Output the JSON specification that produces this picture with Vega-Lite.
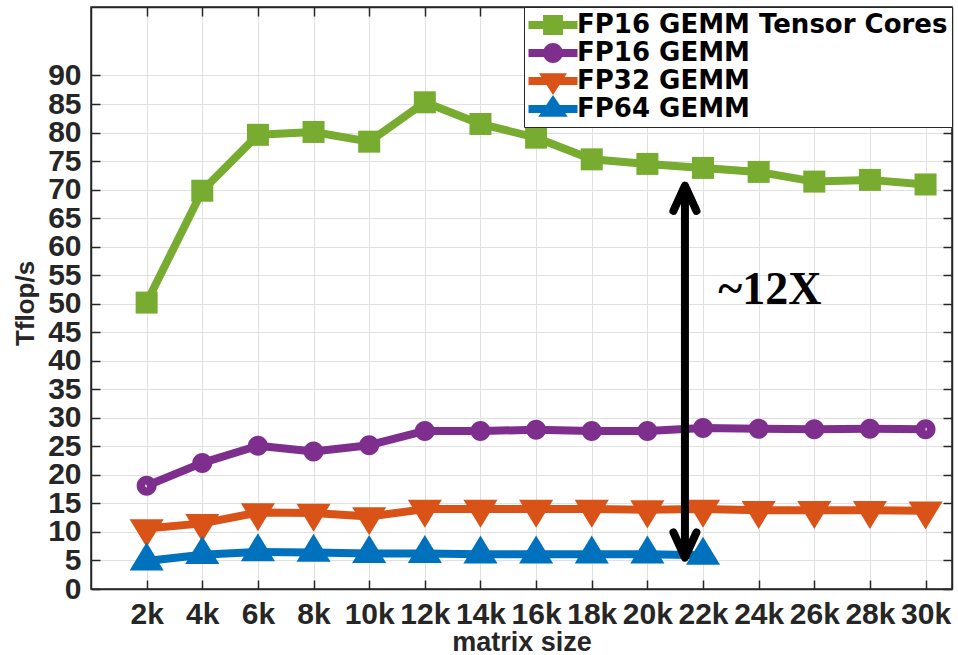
{
  "$schema": "https://vega.github.io/schema/vega-lite/v6.json",
  "width": 861,
  "height": 582,
  "autosize": {"type": "none"},
  "padding": {"left": 91, "top": 7, "right": 6, "bottom": 66},
  "background": "white",
  "config": {
    "view": {"stroke": "#262626", "strokeWidth": 1.5},
    "font": "Liberation Sans"
  },
  "datasets": {
    "perf": [
      {"size": 2, "tflops": 50.2, "series": "FP16 GEMM Tensor Cores"},
      {"size": 4, "tflops": 69.8, "series": "FP16 GEMM Tensor Cores"},
      {"size": 6, "tflops": 79.6, "series": "FP16 GEMM Tensor Cores"},
      {"size": 8, "tflops": 80.1, "series": "FP16 GEMM Tensor Cores"},
      {"size": 10, "tflops": 78.4, "series": "FP16 GEMM Tensor Cores"},
      {"size": 12, "tflops": 85.3, "series": "FP16 GEMM Tensor Cores"},
      {"size": 14, "tflops": 81.5, "series": "FP16 GEMM Tensor Cores"},
      {"size": 16, "tflops": 79.1, "series": "FP16 GEMM Tensor Cores"},
      {"size": 18, "tflops": 75.3, "series": "FP16 GEMM Tensor Cores"},
      {"size": 20, "tflops": 74.5, "series": "FP16 GEMM Tensor Cores"},
      {"size": 22, "tflops": 73.8, "series": "FP16 GEMM Tensor Cores"},
      {"size": 24, "tflops": 73.1, "series": "FP16 GEMM Tensor Cores"},
      {"size": 26, "tflops": 71.4, "series": "FP16 GEMM Tensor Cores"},
      {"size": 28, "tflops": 71.7, "series": "FP16 GEMM Tensor Cores"},
      {"size": 30, "tflops": 70.9, "series": "FP16 GEMM Tensor Cores"},
      {"size": 2, "tflops": 18.1, "series": "FP16 GEMM"},
      {"size": 4, "tflops": 22.1, "series": "FP16 GEMM"},
      {"size": 6, "tflops": 25.1, "series": "FP16 GEMM"},
      {"size": 8, "tflops": 24.1, "series": "FP16 GEMM"},
      {"size": 10, "tflops": 25.2, "series": "FP16 GEMM"},
      {"size": 12, "tflops": 27.7, "series": "FP16 GEMM"},
      {"size": 14, "tflops": 27.7, "series": "FP16 GEMM"},
      {"size": 16, "tflops": 27.9, "series": "FP16 GEMM"},
      {"size": 18, "tflops": 27.7, "series": "FP16 GEMM"},
      {"size": 20, "tflops": 27.7, "series": "FP16 GEMM"},
      {"size": 22, "tflops": 28.2, "series": "FP16 GEMM"},
      {"size": 24, "tflops": 28.1, "series": "FP16 GEMM"},
      {"size": 26, "tflops": 28.0, "series": "FP16 GEMM"},
      {"size": 28, "tflops": 28.1, "series": "FP16 GEMM"},
      {"size": 30, "tflops": 28.0, "series": "FP16 GEMM"},
      {"size": 2, "tflops": 10.6, "series": "FP32 GEMM"},
      {"size": 4, "tflops": 11.5, "series": "FP32 GEMM"},
      {"size": 6, "tflops": 13.4, "series": "FP32 GEMM"},
      {"size": 8, "tflops": 13.3, "series": "FP32 GEMM"},
      {"size": 10, "tflops": 12.7, "series": "FP32 GEMM"},
      {"size": 12, "tflops": 14.0, "series": "FP32 GEMM"},
      {"size": 14, "tflops": 14.0, "series": "FP32 GEMM"},
      {"size": 16, "tflops": 14.0, "series": "FP32 GEMM"},
      {"size": 18, "tflops": 14.0, "series": "FP32 GEMM"},
      {"size": 20, "tflops": 13.9, "series": "FP32 GEMM"},
      {"size": 22, "tflops": 14.0, "series": "FP32 GEMM"},
      {"size": 24, "tflops": 13.8, "series": "FP32 GEMM"},
      {"size": 26, "tflops": 13.8, "series": "FP32 GEMM"},
      {"size": 28, "tflops": 13.8, "series": "FP32 GEMM"},
      {"size": 30, "tflops": 13.7, "series": "FP32 GEMM"},
      {"size": 2, "tflops": 4.9, "series": "FP64 GEMM"},
      {"size": 4, "tflops": 6.0, "series": "FP64 GEMM"},
      {"size": 6, "tflops": 6.5, "series": "FP64 GEMM"},
      {"size": 8, "tflops": 6.4, "series": "FP64 GEMM"},
      {"size": 10, "tflops": 6.2, "series": "FP64 GEMM"},
      {"size": 12, "tflops": 6.2, "series": "FP64 GEMM"},
      {"size": 14, "tflops": 6.1, "series": "FP64 GEMM"},
      {"size": 16, "tflops": 6.1, "series": "FP64 GEMM"},
      {"size": 18, "tflops": 6.1, "series": "FP64 GEMM"},
      {"size": 20, "tflops": 6.1, "series": "FP64 GEMM"},
      {"size": 22, "tflops": 5.9, "series": "FP64 GEMM"}
    ],
    "arrow": [{"size": 21.35, "low": 5.5, "high": 70.7}],
    "arrowTop": [{"size": 21.35, "tflops": 70.7}],
    "arrowBottom": [{"size": 21.35, "tflops": 5.5}],
    "note": [{"size": 24.4, "tflops": 50.0, "label": "~12X"}]
  },
  "layer": [
    {
      "data": {"name": "perf"},
      "mark": {"type": "line", "strokeWidth": 8, "strokeJoin": "round"},
      "encoding": {
        "x": {
          "field": "size", "type": "quantitative",
          "scale": {"domain": [0, 30.95], "nice": false, "zero": false},
          "axis": {
            "orient": "bottom", "title": "matrix size",
            "values": [2, 4, 6, 8, 10, 12, 14, 16, 18, 20, 22, 24, 26, 28, 30],
            "labelExpr": "datum.value + 'k'",
            "grid": true, "gridColor": "#e0e0e0", "gridWidth": 1,
            "tickSize": -9, "tickColor": "#262626", "tickWidth": 1.5,
            "labelPadding": 19, "labelFontSize": 30, "labelFontWeight": "bold", "labelColor": "#262626",
            "labelOverlap": false, "labelFlush": false,
            "domainColor": "#262626", "domainWidth": 1.5,
            "titleFontSize": 27, "titleFontWeight": "bold", "titleColor": "#262626", "titlePadding": 0
          }
        },
        "y": {
          "field": "tflops", "type": "quantitative",
          "scale": {"domain": [0, 102], "nice": false},
          "axis": {
            "orient": "left", "title": "Tflop/s",
            "values": [0, 5, 10, 15, 20, 25, 30, 35, 40, 45, 50, 55, 60, 65, 70, 75, 80, 85, 90],
            "grid": true, "gridColor": "#e0e0e0", "gridWidth": 1,
            "tickSize": -9, "tickColor": "#262626", "tickWidth": 1.5,
            "labelPadding": 19, "labelFontSize": 30, "labelFontWeight": "bold", "labelColor": "#262626",
            "labelOverlap": false, "labelFlush": false,
            "domainColor": "#262626", "domainWidth": 1.5,
            "titleFontSize": 26, "titleFontWeight": "bold", "titleColor": "#262626", "titlePadding": 9,
            "titleY": 296
          }
        },
        "color": {
          "field": "series", "type": "nominal",
          "scale": {"domain": ["FP16 GEMM Tensor Cores", "FP16 GEMM", "FP32 GEMM", "FP64 GEMM"], "range": ["#77AC30", "#7E2F8E", "#D95319", "#0072BD"]},
          "legend": null
        }
      }
    },
    {
      "data": {"name": "perf"},
      "mark": {"type": "point", "filled": true, "size": 484, "opacity": 1, "strokeWidth": 0},
      "encoding": {
        "x": {
          "field": "size", "type": "quantitative",
          "axis": {
            "orient": "top", "title": null, "labels": false, "grid": false,
            "values": [2, 4, 6, 8, 10, 12, 14, 16, 18, 20, 22, 24, 26, 28, 30],
            "tickSize": -9, "tickColor": "#262626", "tickWidth": 1.5,
            "domainColor": "#262626", "domainWidth": 1.5
          }
        },
        "y": {
          "field": "tflops", "type": "quantitative",
          "axis": {
            "orient": "right", "title": null, "labels": false, "grid": false,
            "values": [0, 5, 10, 15, 20, 25, 30, 35, 40, 45, 50, 55, 60, 65, 70, 75, 80, 85, 90],
            "tickSize": -9, "tickColor": "#262626", "tickWidth": 1.5,
            "domainColor": "#262626", "domainWidth": 1.5
          }
        },
        "color": {
          "field": "series", "type": "nominal",
          "scale": {"domain": ["FP16 GEMM Tensor Cores", "FP16 GEMM", "FP32 GEMM", "FP64 GEMM"], "range": ["#77AC30", "#7E2F8E", "#D95319", "#0072BD"]},
          "legend": null
        },
        "shape": {
          "field": "series", "type": "nominal",
          "scale": {
            "domain": ["FP16 GEMM Tensor Cores", "FP16 GEMM", "FP32 GEMM", "FP64 GEMM"],
            "range": [
              "square",
              "M-0.91,0 A0.91 0.91 0 1 1 0.91,0 A0.91 0.91 0 1 1 -0.91,0 Z M-0.14,0 A0.14 0.14 0 1 0 0.14,0 A0.14 0.14 0 1 0 -0.14,0 Z",
              "M-1.55,-0.85 L1.55,-0.85 L0,1.7 Z",
              "M0,-1.7 L1.55,0.85 L-1.55,0.85 Z"
            ]
          },
          "legend": null
        }
      }
    },
    {
      "data": {"name": "arrow"},
      "mark": {"type": "rule", "strokeWidth": 8, "color": "black"},
      "encoding": {
        "x": {"field": "size", "type": "quantitative", "axis": null},
        "y": {"field": "low", "type": "quantitative", "axis": null},
        "y2": {"field": "high"}
      }
    },
    {
      "data": {"name": "arrowTop"},
      "mark": {"type": "point", "shape": "M-1,2.2 L0,0 L1,2.2", "size": 529, "filled": false, "stroke": "black", "strokeWidth": 8, "strokeCap": "round", "strokeJoin": "round", "opacity": 1},
      "encoding": {
        "x": {"field": "size", "type": "quantitative", "axis": null},
        "y": {"field": "tflops", "type": "quantitative", "axis": null}
      }
    },
    {
      "data": {"name": "arrowBottom"},
      "mark": {"type": "point", "shape": "M-1,-2.2 L0,0 L1,-2.2", "size": 529, "filled": false, "stroke": "black", "strokeWidth": 8, "strokeCap": "round", "strokeJoin": "round", "opacity": 1},
      "encoding": {
        "x": {"field": "size", "type": "quantitative", "axis": null},
        "y": {"field": "tflops", "type": "quantitative", "axis": null}
      }
    },
    {
      "data": {"name": "note"},
      "mark": {"type": "text", "font": "Liberation Serif", "fontWeight": "bold", "fontSize": 46, "align": "center", "baseline": "alphabetic", "color": "black"},
      "encoding": {
        "x": {"field": "size", "type": "quantitative", "axis": null},
        "y": {"field": "tflops", "type": "quantitative", "axis": null},
        "text": {"field": "label"}
      }
    },
    {
      "data": {"name": "perf"},
      "transform": [{"filter": "false"}],
      "mark": {"type": "point", "filled": true, "size": 784, "opacity": 1, "strokeWidth": 0},
      "encoding": {
        "color": {
          "field": "series", "type": "nominal",
          "scale": {"domain": ["FP16 GEMM Tensor Cores", "FP16 GEMM", "FP32 GEMM", "FP64 GEMM"], "range": ["#77AC30", "#7E2F8E", "#D95319", "#0072BD"]},
          "legend": {
            "orient": "top-right", "offset": 0, "title": null,
            "labelFont": "DejaVu Sans", "labelFontWeight": "bold", "labelFontSize": 26, "labelColor": "black",
            "strokeColor": "#262626", "fillColor": "white", "padding": 4, "rowPadding": 0,
            "symbolOffset": 11, "labelOffset": 10, "symbolSize": 784, "symbolStrokeWidth": 0, "symbolOpacity": 1, "labelLimit": 0
          }
        },
        "shape": {
          "field": "series", "type": "nominal",
          "scale": {
            "domain": ["FP16 GEMM Tensor Cores", "FP16 GEMM", "FP32 GEMM", "FP64 GEMM"],
            "range": [
              "M0,-1 L0,-1 Z M0,1 L0,1 Z M-1.75,-0.29 L1.75,-0.29 L1.75,0.29 L-1.75,0.29 Z M-0.71,-0.71 L0.71,-0.71 L0.71,0.71 L-0.71,0.71 Z",
              "M0,-1 L0,-1 Z M0,1 L0,1 Z M-1.75,-0.29 L1.75,-0.29 L1.75,0.29 L-1.75,0.29 Z M-0.71,0 A0.71 0.71 0 1 1 0.71,0 A0.71 0.71 0 1 1 -0.71,0 Z",
              "M0,-1 L0,-1 Z M0,1 L0,1 Z M-1.75,-0.29 L1.75,-0.29 L1.75,0.29 L-1.75,0.29 Z M-1,-0.55 L1,-0.55 L0,1 Z",
              "M0,-1 L0,-1 Z M0,1 L0,1 Z M-1.75,-0.29 L1.75,-0.29 L1.75,0.29 L-1.75,0.29 Z M0,-1 L1.05,0.55 L-1.05,0.55 Z"
            ]
          },
          "legend": {
            "orient": "top-right", "offset": 0, "title": null,
            "labelFont": "DejaVu Sans", "labelFontWeight": "bold", "labelFontSize": 26, "labelColor": "black",
            "strokeColor": "#262626", "fillColor": "white", "padding": 4, "rowPadding": 0,
            "symbolOffset": 11, "labelOffset": 10, "symbolSize": 784, "symbolStrokeWidth": 0, "symbolOpacity": 1, "labelLimit": 0
          }
        }
      }
    }
  ],
  "resolve": {
    "scale": {"shape": "independent", "color": "independent"},
    "axis": {"x": "independent", "y": "independent"}
  }
}
